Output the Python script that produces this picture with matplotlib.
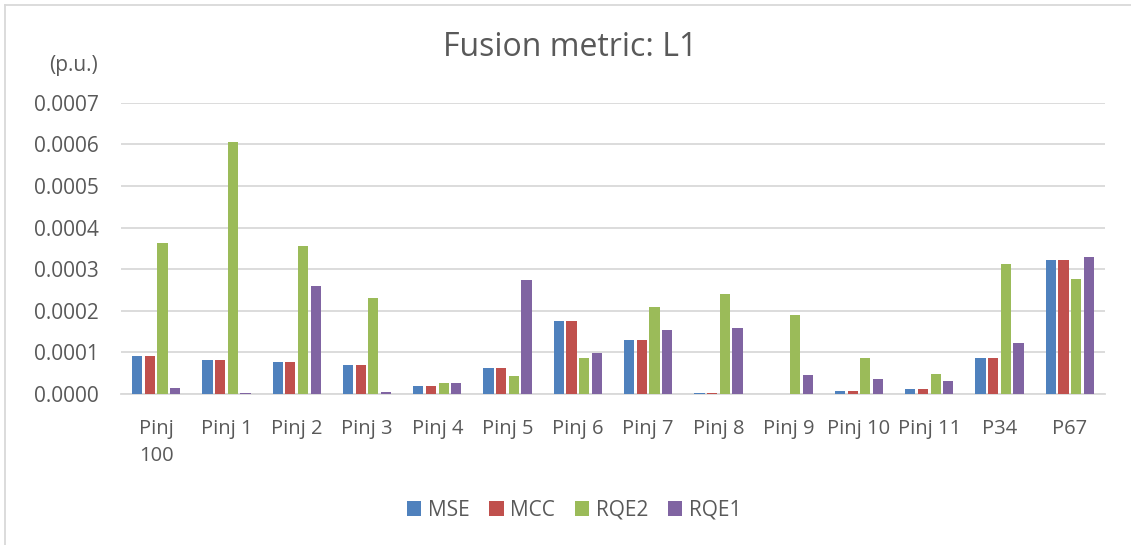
import matplotlib
matplotlib.use("Agg")
import matplotlib.pyplot as plt
import numpy as np
from matplotlib.ticker import FormatStrFormatter, MultipleLocator
from matplotlib.lines import Line2D

categories = ["Pinj\n100", "Pinj 1", "Pinj 2", "Pinj 3", "Pinj 4", "Pinj 5", "Pinj 6",
              "Pinj 7", "Pinj 8", "Pinj 9", "Pinj 10", "Pinj 11", "P34", "P67"]

mse = [0.0000920, 0.0000816, 0.0000768, 0.0000696, 0.0000192, 0.0000624, 0.0001744,
       0.0001296, 0.0000036, 0.0, 0.0000080, 0.0000120, 0.0000856, 0.0003216]
mcc = [0.0000920, 0.0000808, 0.0000768, 0.0000696, 0.0000192, 0.0000624, 0.0001744,
       0.0001296, 0.0000036, 0.0, 0.0000080, 0.0000120, 0.0000856, 0.0003216]
rqe2 = [0.0003632, 0.0006048, 0.0003568, 0.0002304, 0.0000272, 0.0000424, 0.0000872,
        0.0002088, 0.0002392, 0.0001896, 0.0000864, 0.0000488, 0.0003120, 0.0002768]
rqe1 = [0.0000136, 0.0000032, 0.0002592, 0.0000048, 0.0000264, 0.0002728, 0.0000976,
        0.0001544, 0.0001576, 0.0000464, 0.0000360, 0.0000320, 0.0001224, 0.0003288]

series_names = ["MSE", "MCC", "RQE2", "RQE1"]
series_colors = ["#4F81BD", "#C0504D", "#9BBB59", "#8064A2"]

FONT = "Open Sans"
TEXT = "#595959"
GRID = "#D9D9D9"

W, H = 1131, 545
fig = plt.figure(figsize=(W / 100, H / 100), dpi=100)
fig.patch.set_facecolor("white")

ax = fig.add_axes([121 / W, 1 - 394 / H, (1105 - 121) / W, (394 - 102.7) / H])

x = np.arange(len(categories))
slot = 0.18
bar_w = 0.145
for i, (vals, name, col) in enumerate(zip([mse, mcc, rqe2, rqe1], series_names, series_colors)):
    ax.bar(x + (i - 1.5) * slot, vals, width=bar_w, color=col, label=name, zorder=3)

ax.set_xlim(-0.5, len(categories) - 0.5)
ax.set_ylim(0, 0.0007)
ax.yaxis.set_major_locator(MultipleLocator(0.0001))
ax.yaxis.set_major_formatter(FormatStrFormatter("%.4f"))
ax.grid(axis="y", color=GRID, linewidth=1.3, zorder=0)
ax.set_axisbelow(True)
for s in ["top", "right", "left"]:
    ax.spines[s].set_visible(False)
ax.spines["bottom"].set_color(GRID)
ax.spines["bottom"].set_linewidth(1.3)

ax.set_xticks(x)
ax.set_xticklabels(categories, fontfamily=FONT, fontsize=14.5, color=TEXT, linespacing=1.45)
ax.tick_params(axis="x", length=0, pad=18)
ax.tick_params(axis="y", length=0, pad=16, labelsize=15, labelcolor=TEXT)
for lab in ax.get_yticklabels():
    lab.set_fontfamily(FONT)

fig.text(570 / W, 1 - 48 / H, "Fusion metric: L1", fontfamily=FONT, fontsize=23,
         color=TEXT, ha="center", va="center")
fig.text(98 / W, 1 - 65 / H, "(p.u.)", fontfamily=FONT, fontsize=15,
         color=TEXT, ha="right", va="center")

leg = fig.legend(loc="center", bbox_to_anchor=(574 / W, 1 - 510 / H), ncol=4,
                 frameon=False, prop={"family": FONT, "size": 15},
                 handlelength=0.7, handleheight=0.7, handletextpad=0.3,
                 columnspacing=0.95)
for t in leg.get_texts():
    t.set_color(TEXT)

# chart frame edge along the left and top
fig.add_artist(Line2D([4.5 / W, 4.5 / W], [0, 1 - 4.5 / H], transform=fig.transFigure,
                      color=GRID, linewidth=1.3))
fig.add_artist(Line2D([4.5 / W, 1], [1 - 4.5 / H, 1 - 4.5 / H], transform=fig.transFigure,
                      color=GRID, linewidth=1.3))

fig.savefig("out.png", dpi=100, facecolor="white")
